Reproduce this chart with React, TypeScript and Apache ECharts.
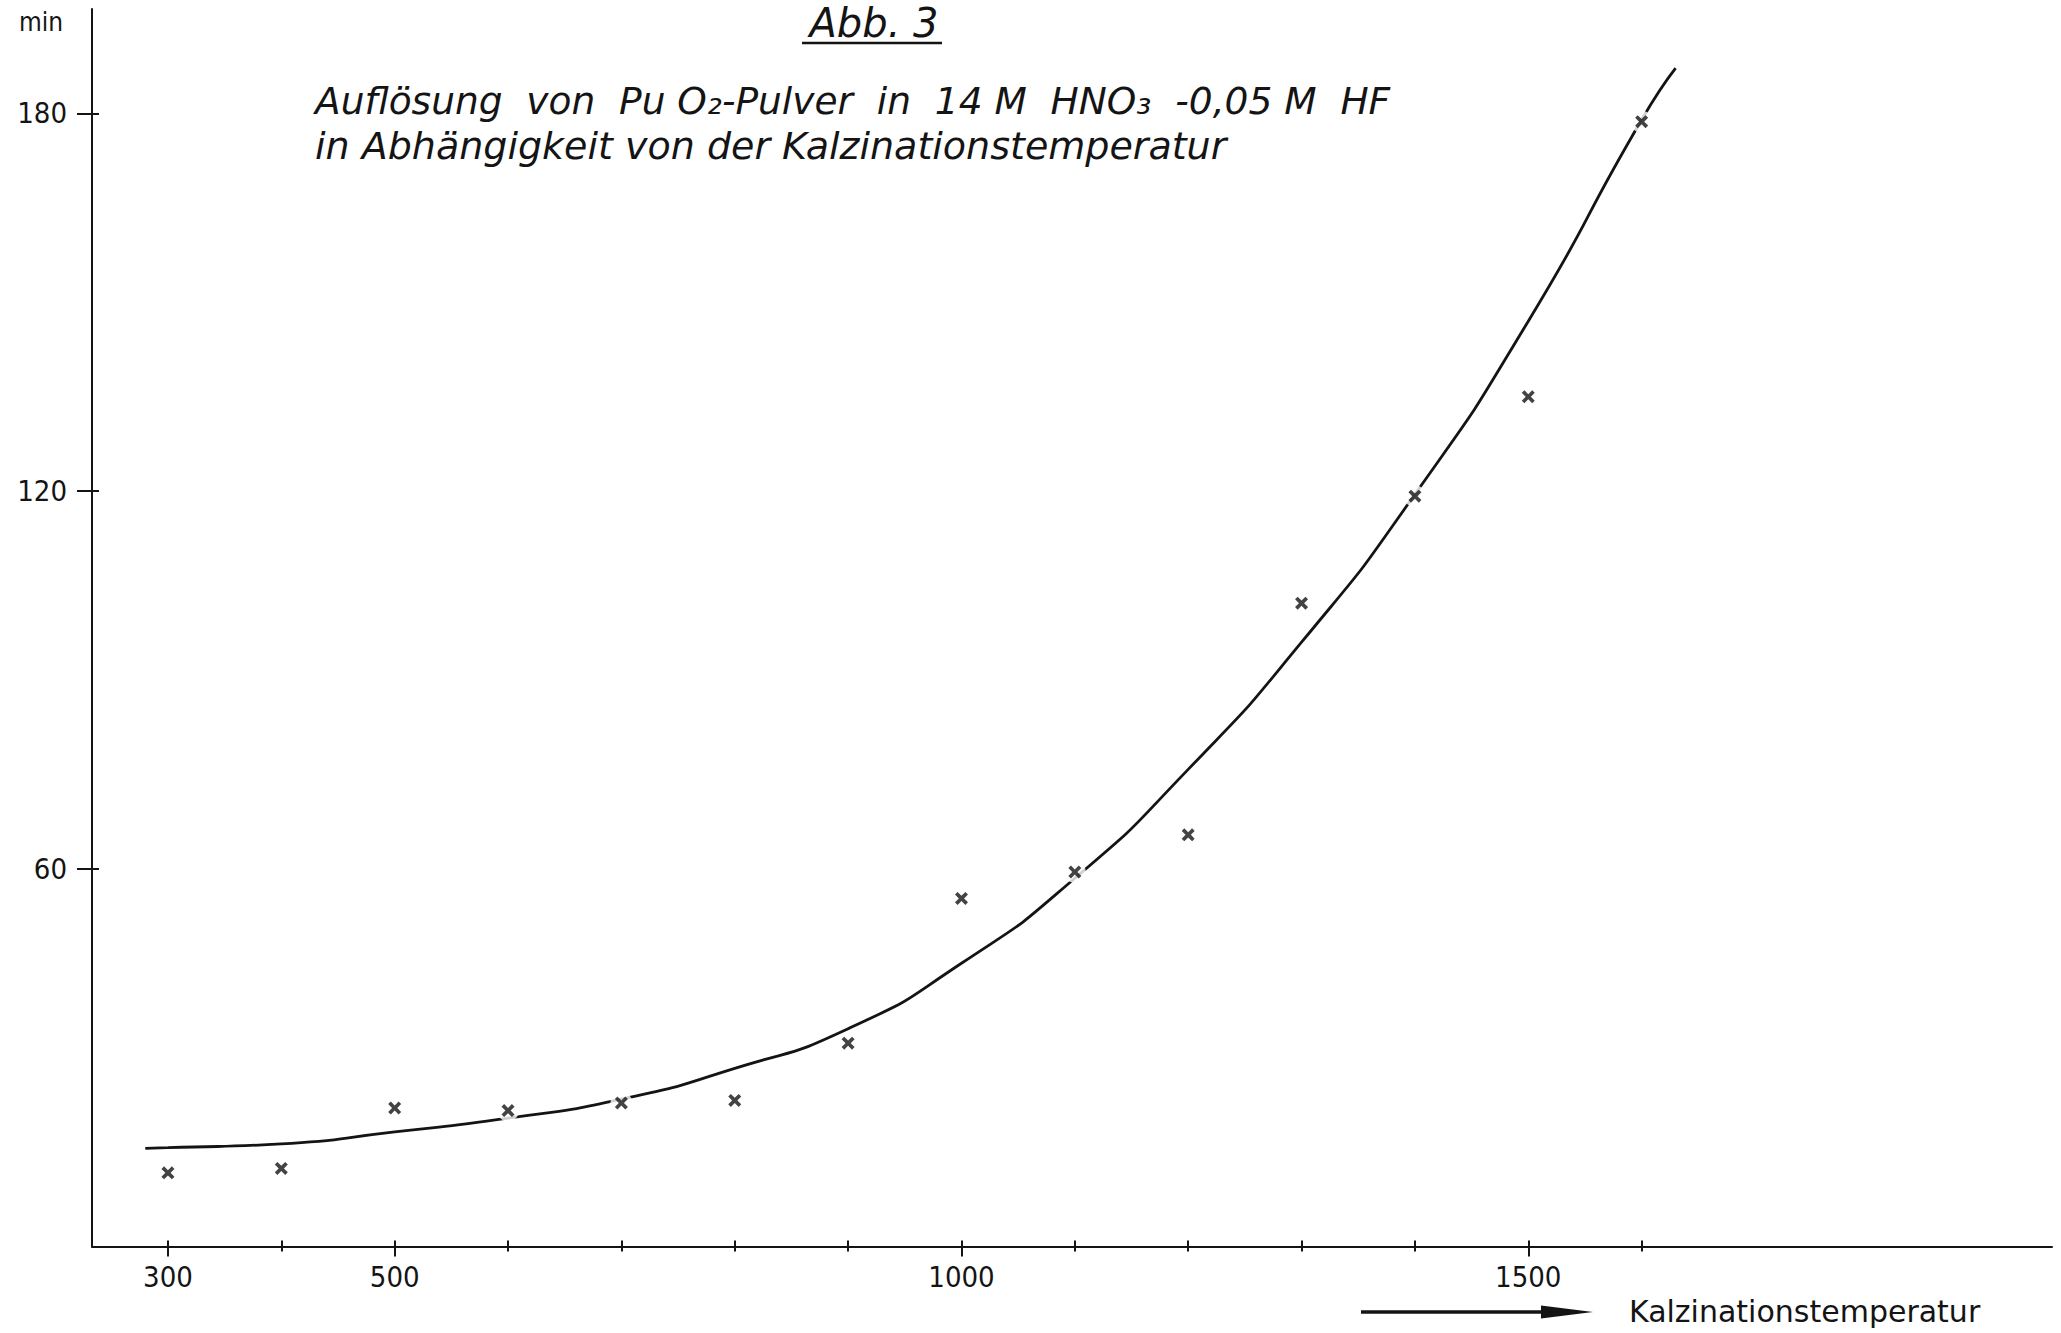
import React, { useEffect, useRef } from "react";
import * as echarts from "echarts";

// Measured points (Kalzinationstemperatur in °C, dissolution time in min)
const temperatures = [300, 400, 500, 600, 700, 800, 900, 1000, 1100, 1200, 1300, 1400, 1500, 1600];
const dissolutionMinutes = [11.7, 12.4, 22.0, 21.6, 22.8, 23.2, 32.3, 55.3, 59.5, 65.4, 102.2, 119.2, 135.0, 178.7];

// Hand-drawn fitted curve
const curveTemperatures = [280, 300, 400, 500, 600, 700, 800, 900, 1000, 1100, 1200, 1300, 1400, 1500, 1600, 1630];
const curveMinutes = [15.6, 15.7, 16.3, 18.2, 20.4, 23.4, 28.3, 34.6, 45.0, 58.5, 75.8, 96.0, 119.5, 147.0, 179.0, 187.2];

// Axis ticks and labels
const xLabelValues = [300, 500, 1000, 1500];
const xAllTicks = [300, 400, 500, 600, 700, 800, 900, 1000, 1100, 1200, 1300, 1400, 1500, 1600];
const xMinorTicks = [400, 600, 700, 800, 900, 1100, 1200, 1300, 1400, 1600];
const yTickValues = [60, 120, 180];

const INK = "#141414";
const LABEL_FONT = "'DejaVu Sans Condensed', 'DejaVu Sans', sans-serif";
const TITLE_FONT = "'DejaVu Sans', sans-serif";
const CROSS = "path://M0,2L2,0L5,3L8,0L10,2L7,5L10,8L8,10L5,7L2,10L0,8L3,5Z";

export default function App() {
  const ref = useRef<HTMLDivElement | null>(null);

  useEffect(() => {
    if (!ref.current) return;
    const chart = echarts.init(ref.current, undefined, { renderer: "svg" });

    const xBase = { type: "value", min: 233, max: 1962, gridIndex: 0, position: "bottom", splitLine: { show: false } };
    const yBase = { type: "value", min: 0, max: 196.6, gridIndex: 0, position: "left", splitLine: { show: false } };
    const plain = (v: number) => String(v);

    const scatterData = temperatures.map((t, i) => [t, dissolutionMinutes[i]]);
    const curveData = curveTemperatures.map((t, i) => [t, curveMinutes[i]]);

    chart.setOption({
      animation: false,
      backgroundColor: "#ffffff",
      grid: { left: 92, right: 9, top: 9, bottom: 86.5, containLabel: false },
      xAxis: [
        {
          ...xBase,
          axisLine: { show: true, onZero: false, lineStyle: { color: INK, width: 2 } },
          axisTick: { show: true, inside: false, length: 10, customValues: xLabelValues, lineStyle: { color: INK, width: 2 } },
          axisLabel: { show: true, customValues: xLabelValues, formatter: plain, margin: 16, color: INK, fontSize: 29, fontFamily: LABEL_FONT },
        },
        {
          ...xBase,
          axisLine: { show: false },
          axisTick: { show: true, inside: true, length: 6, customValues: xAllTicks, lineStyle: { color: INK, width: 2 } },
          axisLabel: { show: false },
        },
        {
          ...xBase,
          axisLine: { show: false },
          axisTick: { show: true, inside: false, length: 5, customValues: xMinorTicks, lineStyle: { color: INK, width: 2 } },
          axisLabel: { show: false },
        },
      ],
      yAxis: [
        {
          ...yBase,
          axisLine: { show: true, onZero: false, lineStyle: { color: INK, width: 2 } },
          axisTick: { show: true, inside: false, length: 15, customValues: yTickValues, lineStyle: { color: INK, width: 2 } },
          axisLabel: { show: true, customValues: yTickValues, formatter: plain, margin: 25, color: INK, fontSize: 29, fontFamily: LABEL_FONT },
        },
        {
          ...yBase,
          axisLine: { show: false },
          axisTick: { show: true, inside: true, length: 7, customValues: yTickValues, lineStyle: { color: INK, width: 2 } },
          axisLabel: { show: false },
        },
      ],
      series: [
        {
          type: "line",
          xAxisIndex: 0,
          yAxisIndex: 0,
          data: curveData,
          smooth: 0.6,
          showSymbol: false,
          symbol: "none",
          lineStyle: { color: INK, width: 2.8 },
          z: 2,
        },
        {
          type: "scatter",
          xAxisIndex: 0,
          yAxisIndex: 0,
          data: scatterData,
          symbol: "circle",
          symbolSize: 22,
          itemStyle: { color: "#ffffff" },
          z: 3,
          silent: true,
        },
        {
          type: "scatter",
          xAxisIndex: 0,
          yAxisIndex: 0,
          data: scatterData,
          symbol: CROSS,
          symbolSize: 13,
          itemStyle: { color: INK },
          z: 4,
        },
      ],
      graphic: [
        {
          type: "text",
          x: 41,
          y: 22,
          style: { text: "min", fill: INK, fontSize: 26, fontFamily: LABEL_FONT, align: "center", verticalAlign: "middle" },
        },
        {
          type: "text",
          x: 874,
          y: 23,
          style: { text: "Abb. 3", fill: INK, fontSize: 40, fontStyle: "italic", fontFamily: TITLE_FONT, align: "center", verticalAlign: "middle" },
        },
        {
          type: "line",
          shape: { x1: 802, y1: 43, x2: 942, y2: 43 },
          style: { stroke: INK, lineWidth: 2.5 },
        },
        {
          type: "text",
          x: 315,
          y: 101,
          style: {
            text: "Auflösung  von  Pu O₂-Pulver  in  14 M  HNO₃  -0,05 M  HF",
            fill: INK,
            fontSize: 37.5,
            fontStyle: "italic",
            fontFamily: TITLE_FONT,
            align: "left",
            verticalAlign: "middle",
          },
        },
        {
          type: "text",
          x: 315,
          y: 146,
          style: {
            text: "in Abhängigkeit von der Kalzinationstemperatur",
            fill: INK,
            fontSize: 38,
            fontStyle: "italic",
            fontFamily: TITLE_FONT,
            align: "left",
            verticalAlign: "middle",
          },
        },
        {
          type: "line",
          shape: { x1: 1361, y1: 1312, x2: 1548, y2: 1312 },
          style: { stroke: INK, lineWidth: 3.5 },
        },
        {
          type: "polygon",
          shape: { points: [[1541, 1305.5], [1593, 1312], [1541, 1318.5]] },
          style: { fill: INK },
        },
        {
          type: "text",
          x: 1629,
          y: 1311,
          style: { text: "Kalzinationstemperatur", fill: INK, fontSize: 30, fontFamily: TITLE_FONT, align: "left", verticalAlign: "middle" },
        },
      ],
    });

    return () => chart.dispose();
  }, []);

  return (
    <div
      ref={ref}
      style={{ position: "fixed", left: 0, top: 0, width: 2061, height: 1333, background: "#ffffff" }}
    />
  );
}
